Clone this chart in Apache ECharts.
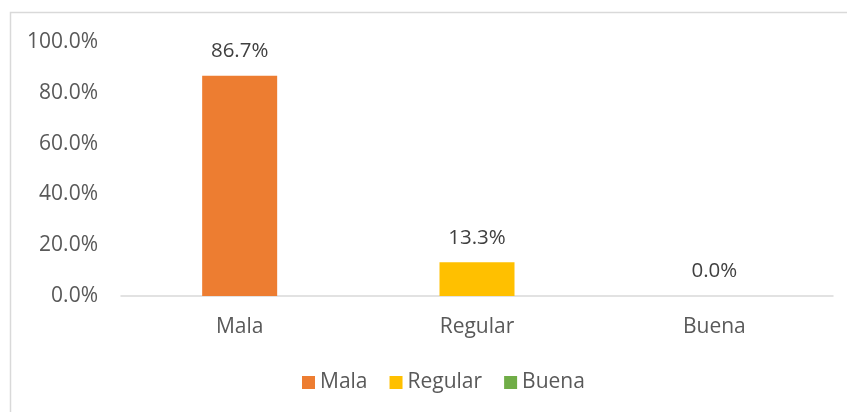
<!DOCTYPE html>
<html>
<head>
<meta charset="utf-8">
<script src="https://cdn.jsdelivr.net/npm/echarts@6/dist/echarts.min.js"></script>
<style>
  html, body { margin: 0; padding: 0; background: #ffffff; }
  #main { width: 847px; height: 412px; }
</style>
</head>
<body>
<div id="main"></div>
<script>
const categories = ['Mala', 'Regular', 'Buena'];
const seriesNames = ['Mala', 'Regular', 'Buena'];
const malaValues = [86.7, '-', '-'];
const regularValues = ['-', 13.3, '-'];
const buenaValues = ['-', '-', 0.0];
const yTicks = { min: 0, max: 100, interval: 20 };
const colors = ['#ED7D31', '#FFC000', '#70AD47'];

const textColor = '#595959';
const fontFamily = '"Open Sans", sans-serif';

const chart = echarts.init(document.getElementById('main'));

const makeSeries = (name, data, color) => ({
  name: name,
  type: 'bar',
  stack: 'all',
  barWidth: 75,
  data: data,
  itemStyle: { color: color },
  label: {
    show: true,
    position: 'top',
    distance: 14,
    color: '#404040',
    fontSize: 20.5,
    fontFamily: fontFamily,
    formatter: function (p) {
      return Number(p.value).toFixed(1) + '%';
    }
  }
});

const option = {
  backgroundColor: '#FFFFFF',
  animation: false,
  graphic: [{
    type: 'rect',
    shape: { x: 10.5, y: 12.5, width: 900, height: 500 },
    style: { fill: 'none', stroke: '#D9D9D9', lineWidth: 1.5 },
    silent: true
  }],
  legend: {
    bottom: 14,
    left: 297,
    itemWidth: 13,
    itemHeight: 13,
    itemGap: 22,
    icon: 'rect',
    textStyle: { color: textColor, fontSize: 21, fontFamily: fontFamily },
    data: seriesNames
  },
  grid: {
    left: 121,
    right: 14,
    top: 42,
    bottom: 116
  },
  xAxis: {
    type: 'category',
    data: categories,
    axisLine: { lineStyle: { color: '#D9D9D9', width: 1.5 } },
    axisTick: { show: false },
    axisLabel: {
      color: textColor,
      fontSize: 21,
      fontFamily: fontFamily,
      margin: 21
    }
  },
  yAxis: {
    type: 'value',
    min: yTicks.min,
    max: yTicks.max,
    interval: yTicks.interval,
    splitLine: { show: false },
    axisLine: { show: false },
    axisTick: { show: false },
    axisLabel: {
      color: textColor,
      fontSize: 21,
      fontFamily: fontFamily,
      margin: 23,
      formatter: function (v) { return v.toFixed(1) + '%'; }
    }
  },
  series: [
    makeSeries(seriesNames[0], malaValues, colors[0]),
    makeSeries(seriesNames[1], regularValues, colors[1]),
    makeSeries(seriesNames[2], buenaValues, colors[2])
  ]
};

chart.setOption(option);
</script>
</body>
</html>
